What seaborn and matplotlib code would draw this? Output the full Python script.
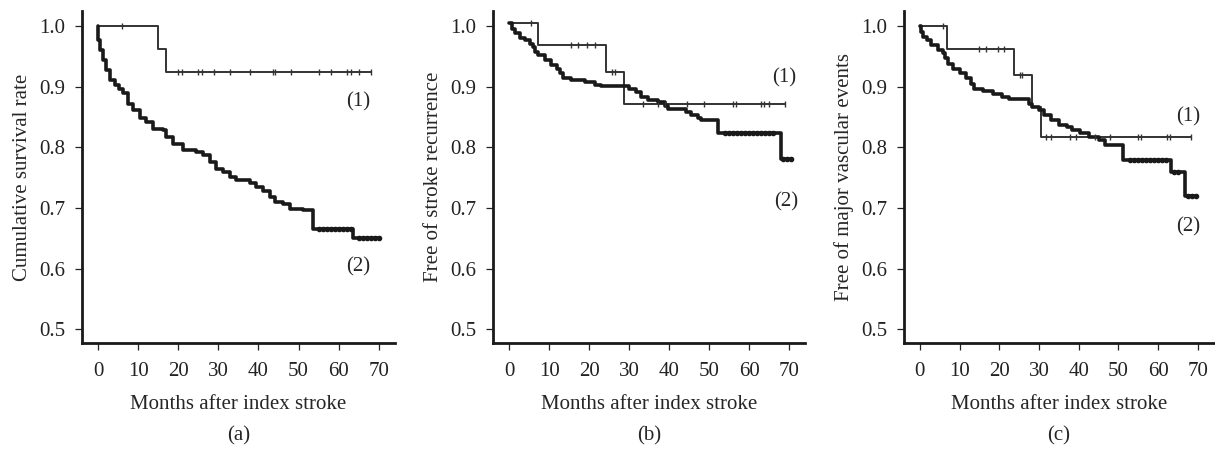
import numpy as np
import pandas as pd
import matplotlib
matplotlib.use("Agg")
import matplotlib.pyplot as plt
import seaborn as sns

# ---- panel (a): cumulative survival ----
a_t1 = [0, 15, 17, 68]
a_s1 = [1.0, 0.962, 0.925, 0.925]
a_c1 = [6, 20, 21, 25, 26, 29, 33, 38, 43.5, 44.2, 48, 55, 58, 62, 63, 65, 68]
a_t2 = [0, 0.1, 0.4, 1.2, 2.0, 2.9, 4.2, 5.2, 6.2, 7.5, 8.7, 10.4, 12.0, 13.7, 16.2, 17.0,
        18.7, 21.2, 24.5, 26.2, 27.8, 29.5, 31.2, 32.8, 34.5, 37.8, 39.5, 41.1, 42.8, 44.0,
        46.1, 47.8, 51.1, 53.6, 63.6, 70.2]
a_s2 = [1.0, 0.977, 0.96, 0.944, 0.928, 0.911, 0.903, 0.896, 0.889, 0.872, 0.861, 0.848, 0.842,
        0.831, 0.828, 0.817, 0.806, 0.795, 0.793, 0.787, 0.776, 0.765, 0.76, 0.751, 0.746,
        0.741, 0.735, 0.728, 0.718, 0.71, 0.707, 0.699, 0.696, 0.666, 0.65, 0.65]
a_c2 = [55, 56, 57, 58, 59, 60, 61, 62, 63, 65, 66, 67, 68, 69, 70]

# ---- panel (b): free of stroke recurrence ----
b_t1 = [0, 7.3, 24.2, 28.8, 69]
b_s1 = [1.005, 0.969, 0.925, 0.871, 0.871]
b_c1 = [5.6, 15.4, 17.3, 19.4, 21.4, 25.7, 26.6, 33.5, 37.2, 39.1, 44.5, 48.7, 55.9,
        56.7, 63, 63.8, 65, 69]
b_t2 = [0, 0.7, 1.5, 2.7, 4.0, 5.2, 6.1, 6.5, 7.3, 9.0, 10.6, 11.9, 12.7, 13.5, 15.6, 18.9,
        21.4, 23.1, 30.1, 31.8, 33.1, 34.7, 37.2, 38.9, 39.7, 44.3, 45.5, 47.2, 48.0, 52.2,
        67.9, 70.8]
b_s2 = [1.005, 0.996, 0.988, 0.981, 0.977, 0.971, 0.966, 0.958, 0.952, 0.944, 0.936, 0.93,
        0.922, 0.914, 0.911, 0.908, 0.903, 0.901, 0.897, 0.892, 0.883, 0.878, 0.875, 0.868,
        0.864, 0.859, 0.853, 0.848, 0.845, 0.823, 0.78, 0.78]
b_c2 = [54, 55, 56, 57, 58, 59, 60, 61, 62, 63, 64, 65, 66, 68.5, 69.5, 70.5]

# ---- panel (c): free of major vascular events ----
c_t1 = [0, 6.9, 23.75, 28.25, 30.5, 68.3]
c_s1 = [1.0, 0.962, 0.919, 0.866, 0.817, 0.817]
c_c1 = [5.8, 15, 16.7, 19.8, 21.2, 25.2, 25.8, 31.7, 32.9, 37.9, 39.2, 44, 47.9, 55,
        55.8, 62.1, 62.9, 68.3]
c_t2 = [0, 0.4, 0.8, 1.7, 2.9, 4.6, 5.8, 6.25, 7.1, 8.3, 10.0, 11.7, 12.9, 13.75, 15.8,
        18.3, 20.8, 22.5, 27.5, 28.3, 30.0, 31.25, 32.9, 35.0, 37.1, 38.3, 40.4, 42.5, 45.0,
        46.7, 51.25, 63.3, 66.7, 69.6]
c_s2 = [1.0, 0.991, 0.982, 0.977, 0.969, 0.96, 0.955, 0.947, 0.938, 0.93, 0.922, 0.914,
        0.905, 0.897, 0.893, 0.888, 0.883, 0.879, 0.872, 0.867, 0.861, 0.853, 0.845, 0.837,
        0.834, 0.828, 0.824, 0.817, 0.812, 0.804, 0.779, 0.759, 0.719, 0.719]
c_c2 = [53, 54, 55, 56, 57, 58, 59, 60, 61, 62, 64, 65, 67.5, 68.5, 69.5]

ylabels = ["Cumulative survival rate", "Free of stroke recurrence", "Free of major vascular events"]
captions = ["(a)", "(b)", "(c)"]
label_pos = [((64.8, 0.875), (64.8, 0.603)),
             ((68.8, 0.915), (69.2, 0.71)),
             ((67.5, 0.851), (67.5, 0.669))]

sns.set_style("ticks")
plt.rcParams['font.family'] = ['Liberation Serif', 'DejaVu Serif']
plt.rcParams['font.size'] = 15

fig = plt.figure(figsize=(12.15, 4.49), dpi=100)
boxes = [(0.0675, 0.325), (0.4058, 0.6626), (0.744, 0.999)]
bottom, top = 0.236, 0.9755

panels = [(a_t1, a_s1, a_c1, a_t2, a_s2, a_c2),
          (b_t1, b_s1, b_c1, b_t2, b_s2, b_c2),
          (c_t1, c_s1, c_c1, c_t2, c_s2, c_c2)]


def step_value(ts, ss, x):
    i = np.searchsorted(ts, x, side='right') - 1
    return np.asarray(ss)[i]


for k, (t1, s1, c1, t2, s2, c2) in enumerate(panels):
    l, r = boxes[k]
    ax = fig.add_axes([l, bottom, r - l, top - bottom])
    df1 = pd.DataFrame({'t': t1, 's': s1})
    df2 = pd.DataFrame({'t': t2, 's': s2})
    sns.lineplot(data=df1, x='t', y='s', ax=ax, drawstyle='steps-post', estimator=None,
                 sort=False, color='#333333', linewidth=1.4)
    sns.lineplot(data=df2, x='t', y='s', ax=ax, drawstyle='steps-post', estimator=None,
                 sort=False, color='#1a1a1a', linewidth=2.6)
    ax.plot(c1, step_value(t1, s1, c1), linestyle='none', marker='|', markersize=5,
            markeredgewidth=1.0, color='#333333')
    ax.plot(c2, step_value(t2, s2, c2), linestyle='none', marker='o', markersize=3.0,
            color='#1a1a1a')

    (x1, y1), (x2, y2) = label_pos[k]
    ax.text(x1, y1, "(1)", ha='center', va='center', fontsize=15)
    ax.text(x2, y2, "(2)", ha='center', va='center', fontsize=15)

    ax.set_xlim(-4, 74)
    ax.set_ylim(0.477, 1.025)
    ax.set_xticks(range(0, 71, 10))
    ax.set_yticks([0.5, 0.6, 0.7, 0.8, 0.9, 1.0])
    ax.set_yticklabels(["0.5", "0.6", "0.7", "0.8", "0.9", "1.0"])
    ax.set_xlabel("Months after index stroke", fontsize=15, labelpad=10)
    ax.set_ylabel(ylabels[k], fontsize=15, labelpad=5)
    ax.tick_params(direction='out', length=5, width=0.9, labelsize=15, colors='#222222')
    ax.tick_params(axis='x', pad=9)
    ax.tick_params(axis='y', pad=7)
    for side in ['top', 'right']:
        ax.spines[side].set_visible(False)
    for side in ['left', 'bottom']:
        ax.spines[side].set_linewidth(2.0)
        ax.spines[side].set_color('#1a1a1a')
    ax.text(0.5, -0.28, captions[k], transform=ax.transAxes, ha='center', va='center',
            fontsize=15)

fig.savefig("out.png", dpi=100)
